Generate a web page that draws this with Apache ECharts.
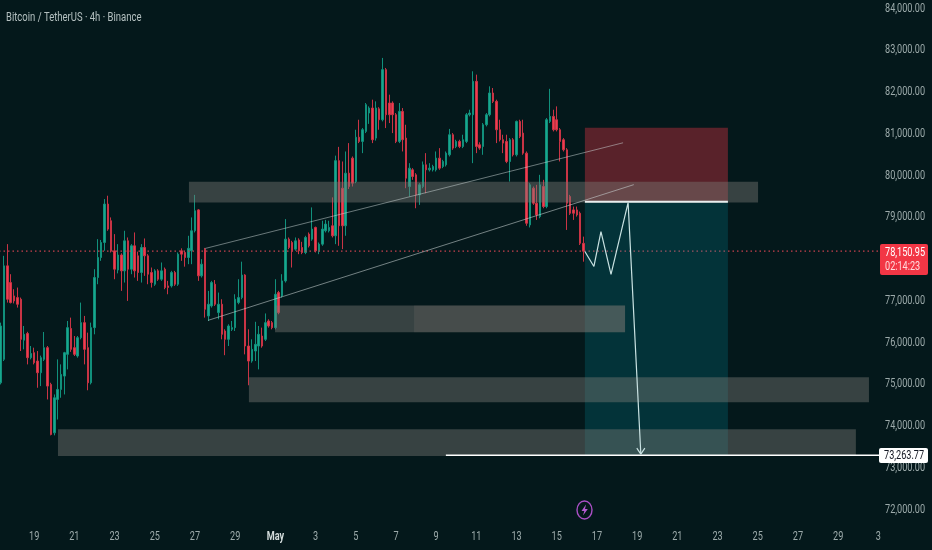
<!DOCTYPE html>
<html><head><meta charset="utf-8">
<style>html,body{margin:0;padding:0;background:#04181b}#c{width:932px;height:550px}</style>
<script src="https://cdn.jsdelivr.net/npm/echarts@6/dist/echarts.min.js"></script>
</head><body><div id="c"></div>
<script>
const opens=[75000,75560,77800,77400,77080,77040,77000,76020,76180,75600,
75720,75520,75240,75560,75840,74960,73800,74600,74840,75160,
75680,76300,75840,75640,76080,76440,75840,75000,76320,77520,
78000,78360,79280,78880,78160,77700,78060,77680,78400,77720,
78280,78040,77640,78240,78040,77640,77360,77680,77480,77720,
77320,77320,77640,77360,78160,78120,78000,78160,78640,79140,
77560,78200,76600,76840,77360,76680,76880,76240,76040,76280,
76320,76920,77040,77580,75880,75520,75760,75880,76120,76040,
76480,76440,76320,77160,77080,77440,78440,78360,78200,78420,
78240,78120,78560,78440,78720,78160,78320,78640,78640,78760,
78520,80320,79660,78760,80020,80380,79820,80880,80780,81020,
81460,81580,80860,81560,81300,82500,81700,81700,81420,80780,
81500,80860,79700,80100,79980,79500,79700,80220,80100,80100,
80100,80380,80180,80220,80460,80940,80660,80780,80660,80780,
81420,81420,82220,80700,80660,81180,81420,81940,81740,81060,
80820,80780,80300,80820,80460,81260,80980,80500,78780,79660,
79300,78980,79700,79220,81260,81380,81300,81060,80820,80580,
79460,79140,79140,79060,78340];
const closes=[76360,77800,77000,76920,76960,76880,76040,76160,75600,75700,
75480,75240,75600,75840,74920,73760,74640,74840,75200,75720,
76320,75800,75680,76080,76440,75800,75000,76320,77520,78000,
78360,79280,78680,78160,77720,78060,77680,78400,77720,78280,
77680,77640,78240,78040,77600,77400,77680,77480,77680,77280,
77280,77640,77360,78080,78080,78000,78220,78640,79120,77560,
77840,76760,76880,77400,76880,76880,76160,76040,76360,76320,
77000,77040,77580,75880,75520,75800,75920,76160,75880,76440,
76360,76320,77120,76680,77440,78440,78240,78160,78400,78160,
78120,78480,78280,78680,78160,78320,78680,78800,78720,78520,
80320,78760,78760,80020,79700,79780,80880,80780,81060,81660,
81580,80820,81580,81300,82500,81420,81420,81420,80780,81500,
80820,79900,80140,79940,79500,79740,80220,80100,80140,80180,
80380,80140,80300,80500,80940,80620,80780,80660,80820,81420,
81460,82220,80660,80620,81180,81420,81940,81740,81060,80820,
80740,80300,80820,80460,81260,80900,80500,78820,79740,79300,
79020,79740,79220,81300,81380,81060,81060,80780,80580,79300,
79060,79060,79020,78340,78151];
const lows=[74960,75520,76920,76900,76900,76800,75760,75800,75440,75560,
75440,74880,74920,75520,74600,73740,73740,74120,74640,74720,
75320,75740,75640,75600,76040,75440,74820,74960,76160,77360,
77920,78160,78640,78120,77480,77620,77200,77400,76960,77600,
77520,77440,77400,77560,77360,77280,77320,77440,77440,77240,
77120,77280,77320,77320,77920,77780,77840,77840,78600,77440,
77520,76560,76480,76800,76840,76520,76040,75660,75880,76240,
76240,76880,77000,75680,74940,75480,75520,75320,75840,76000,
76320,76280,76280,76640,77040,77400,78200,77760,78160,78080,
78080,78080,78240,78400,78120,78080,78280,78600,78600,78480,
78320,78280,78200,78520,79640,79700,79780,80740,80500,80980,
81200,80740,80800,81060,81260,81100,81220,80980,80740,80740,
80540,79660,79460,79860,79180,79260,79660,79540,80060,80060,
80060,80100,80140,80180,80420,80580,80620,80620,80620,80740,
81380,80260,80500,80580,80460,81140,81380,81700,80740,80780,
80500,80260,79820,80420,80420,80860,80460,78760,78720,79260,
78900,78940,79180,79180,81220,81020,81020,80300,80540,78660,
79020,78900,78980,78300,77900];
const highs=[76440,78040,78320,77600,77240,77280,77040,76360,76220,75880,
75840,75760,75650,76216,75880,75000,74720,75560,75440,75740,
76480,76560,76120,76120,76920,76600,76200,76440,77720,78440,
78420,79400,79480,78960,78560,78320,78100,78640,78480,78320,
78600,78140,78320,78456,78080,77760,77720,77720,77880,77760,
77440,77680,77680,78120,78220,78160,78520,78960,79500,79160,
77960,78230,77200,77440,77460,77160,77000,76280,76400,76480,
77120,77480,77900,77600,76280,76040,76460,76360,76320,76660,
76520,76480,77480,77200,77600,78920,78480,78400,78480,78460,
78376,78520,78600,79200,78740,78360,78880,78900,78880,79440,
80440,80650,80300,80540,80740,80420,81060,81300,81100,81700,
81620,81780,81740,81600,82780,82540,81900,81740,81460,81700,
81580,81180,80260,80140,80020,79780,80300,80500,80260,80220,
80540,80620,80340,80540,81080,80980,80820,80820,80940,81460,
81540,82460,82380,80760,81220,81460,82100,82060,81780,81300,
80940,80940,80860,80860,81280,81300,81300,80540,79780,79700,
79740,79980,79860,81340,82040,81540,81620,81100,80860,80620,
79500,79220,79220,79100,78500];

const barCount=263;
const tickBars=[10,22,34,46,58,70,82,94,106,118,130,142,154,166,178,190,202,214,226,238,250,262];
const tickLabels=['19','21','23','25','27','29','May','3','5','7','9','11','13','15','17','19','21','23','25','27','29','3'];
const lastPrice=78150.95;
const targetPrice=73263.77;
const entryPrice=79338;
const countdown='02:14:23';
const titleText='Bitcoin / TetherUS · 4h · Binance';

// supply / demand zones: [first bar, last bar, upper price, lower price]
const zones=[[56.2,226.1,79816,79315],[81.9,186.4,76853,76208],[74.1,259.2,75132,74534],[17.1,255.3,73889,73245]];
const zoneOverlap=[[123.4,186.4,76853,76208]];
const riskBox=[[174.4,217.1,81107,79338]];
const rewardBox=[[174.4,217.1,79338,73268]];
const channelUpper=[[61,78215],[185.8,80748]];
const channelLower=[[61.9,76494],[189,79745]];
const projection=[[174.4,78143],[177.1,77785],[179.2,78621],[182.2,77594],[187.3,79315],[191.1,73292]];
const arrowHead=[[189.9,73435],[191.1,73292],[192.3,73435]];
const entryLine=[[174.4,entryPrice],[217.1,entryPrice]];
const targetLine=[[132.9,targetPrice],[262.5,targetPrice]];
const priceLine=[[-0.5,lastPrice],[262.5,lastPrice]];

const FONT='Roboto,sans-serif';
const TEXT_SQUEEZE=0.76;
const categories=Array.from({length:barCount},(_,i)=>'b'+i);
const candles=opens.map((o,i)=>[o,closes[i],lows[i],highs[i]]);

function boxSeries(rows,color,z){
  return {type:'custom',xAxisIndex:1,yAxisIndex:0,z:z,silent:true,clip:false,data:rows,
    encode:{x:[0,1],y:[2,3]},
    renderItem:(p,api)=>{
      const a=api.coord([api.value(0),api.value(2)]),b=api.coord([api.value(1),api.value(3)]);
      return {type:'rect',shape:{x:a[0],y:a[1],width:b[0]-a[0],height:b[1]-a[1]},style:{fill:color}};
    }};
}
function lineSeries(pts,color,width,z,type){
  return {type:'line',xAxisIndex:1,yAxisIndex:0,data:pts,symbol:'none',silent:true,z:z,clip:false,animation:false,
    lineStyle:{color:color,width:width,type:type||'solid'}};
}

const chart=echarts.init(document.getElementById('c'),null,{renderer:'canvas'});
chart.setOption({
  animation:false,
  backgroundColor:'#04181b',
  title:{text:titleText,left:1,top:6,textStyle:{color:'#b4c0c0',fontFamily:FONT,fontSize:12.5,fontWeight:'normal'}},
  grid:{left:-1,right:52,top:7,bottom:42,containLabel:false,outerBoundsMode:'none'},
  xAxis:[{type:'category',data:categories,boundaryGap:true,
      axisLine:{show:false},axisTick:{show:false},splitLine:{show:false},
      axisLabel:{show:true,margin:23,color:'#9dabab',fontFamily:FONT,fontSize:12,hideOverlap:false,
        interval:(i)=>tickBars.includes(i),
        formatter:(v,i)=>{const k=tickBars.indexOf(i);if(k<0)return '';const t=tickLabels[k];return t==='May'?'{m|May}':t;},
        rich:{m:{color:'#d4dcdc',fontWeight:'bold',fontFamily:FONT,fontSize:12}}}},
    {type:'value',show:false,min:-0.5,max:262.5,splitLine:{show:false}}],
  yAxis:{type:'value',position:'right',min:72000,max:84000,interval:1000,
    axisLine:{show:false},axisTick:{show:false},splitLine:{show:false},
    axisLabel:{margin:5,color:'#9dabab',fontFamily:FONT,fontSize:12,
      formatter:v=>v.toLocaleString('en-US',{minimumFractionDigits:2,maximumFractionDigits:2})}},
  series:[
    {type:'candlestick',name:'BTCUSDT',xAxisIndex:0,yAxisIndex:0,data:candles,barWidth:2,z:2,silent:true,
      itemStyle:{color:'#17a88e',color0:'#f23c4f',borderColor:'#11907c',borderColor0:'#c93445',borderWidth:1}},
    lineSeries(priceLine,'#c8404f',1.2,3,[1.5,3]),
    boxSeries(riskBox,'rgba(242,54,69,0.36)',4),
    boxSeries(rewardBox,'rgba(0,160,180,0.2)',4),
    boxSeries(zones,'rgba(122,122,118,0.43)',5),
    boxSeries(zoneOverlap,'rgba(129,122,113,0.2)',5),
    lineSeries(channelUpper,'rgba(205,215,215,0.5)',1,6),
    lineSeries(channelLower,'rgba(205,215,215,0.55)',1,6),
    lineSeries(entryLine,'#e8eeee',2,7),
    lineSeries(targetLine,'#ffffff',1.5,7),
    lineSeries(projection,'#c9e2e2',1.2,7),
    lineSeries(arrowHead,'#c9e2e2',1.2,7)
  ],
  graphic:[
    {type:'rect',z:100,shape:{x:880,y:244,width:48,height:31,r:2},style:{fill:'#f23645'}},
    {type:'text',z:101,x:885,y:253,style:{text:lastPrice.toLocaleString('en-US',{minimumFractionDigits:2}),fill:'#ffffff',font:'12px '+FONT,textVerticalAlign:'middle'}},
    {type:'text',z:101,x:885,y:267,style:{text:countdown,fill:'#ffd9dc',font:'12px '+FONT,textVerticalAlign:'middle'}},
    {type:'rect',z:100,shape:{x:879,y:448,width:49,height:15,r:2},style:{fill:'#ffffff'}},
    {type:'text',z:101,x:884,y:456,style:{text:targetPrice.toLocaleString('en-US',{minimumFractionDigits:2}),fill:'#131722',font:'12px '+FONT,textVerticalAlign:'middle'}},
    {type:'ellipse',z:100,shape:{cx:584.5,cy:510,rx:7.5,ry:9},style:{fill:'none',stroke:'#a94fc4',lineWidth:1.4}},
    {type:'polygon',z:101,shape:{points:[[586,504.5],[581.5,511],[584.3,511],[583,515.5],[587.8,509],[585,509]]},style:{fill:'#b65ad2'}}
  ]
});
// the reference's lettering is condensed and no condensed face is installed: squeeze each label around its anchor
const zr=chart.getZr();
zr.storage.traverse(el=>{
  if(el.type==='text'){
    el.scaleX=TEXT_SQUEEZE;
    if(/^\d\d,000\.00$/.test(el.style.text||'')) el.y+=1.5;
    el.markRedraw();
  }
});
zr.refresh();
</script></body></html>
